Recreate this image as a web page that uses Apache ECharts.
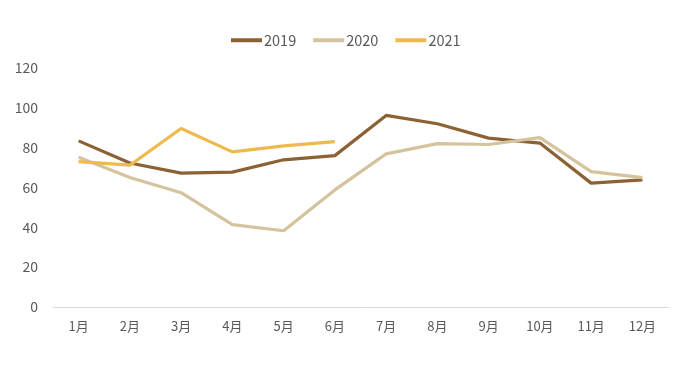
<!DOCTYPE html>
<html><head><meta charset="utf-8">
<script src="https://cdn.jsdelivr.net/npm/echarts@6/dist/echarts.min.js"></script>
<style>html,body{margin:0;padding:0;background:#fff}#c{width:675px;height:371px}</style>
</head><body><div id="c"></div>
<script>
const categories = ['1月','2月','3月','4月','5月','6月','7月','8月','9月','10月','11月','12月'];
const s2019 = [83.4, 72.3, 67.2, 67.7, 73.9, 76.0, 96.2, 92.0, 84.8, 82.3, 62.2, 63.8];
const s2020 = [75.2, 65.0, 57.4, 41.4, 38.3, 58.8, 76.9, 82.0, 81.6, 85.0, 68.0, 65.0];
const s2021 = [73.0, 71.2, 89.6, 77.9, 80.9, 83.0];
const seriesNames = ['2019','2020','2021'];
const colors = ['#8C6235','#D5C39E','#EDBA4B'];
const font = '"Noto Sans CJK SC","Noto Sans",sans-serif';
const chart = echarts.init(document.getElementById('c'));
chart.setOption({
  animation:false,
  color: colors,
  legend:{
    top:28, left:226, padding:5, itemWidth:31, itemHeight:4, itemGap:17,
    icon:'rect',
    textStyle:{color:'#595959', fontSize:14.5, fontFamily:font, padding:[0,0,0,-3]},
    data: seriesNames
  },
  grid:{left:53, right:7, top:68, bottom:64},
  xAxis:{
    type:'category', data:categories, boundaryGap:true,
    axisLine:{lineStyle:{color:'#d9d9d9'}}, axisTick:{show:false},
    axisLabel:{color:'#595959', fontSize:13, fontFamily:font, margin:13}
  },
  yAxis:{
    type:'value', min:0, max:120, interval:20,
    splitLine:{show:false}, axisLine:{show:false}, axisTick:{show:false},
    axisLabel:{color:'#595959', fontSize:14, fontFamily:font, margin:15}
  },
  series:[
    {name:seriesNames[0], type:'line', data:s2019, symbol:'none', lineStyle:{width:3.2}},
    {name:seriesNames[1], type:'line', data:s2020, symbol:'none', lineStyle:{width:3.2}},
    {name:seriesNames[2], type:'line', data:s2021, symbol:'none', lineStyle:{width:3.2}}
  ]
});
</script></body></html>
